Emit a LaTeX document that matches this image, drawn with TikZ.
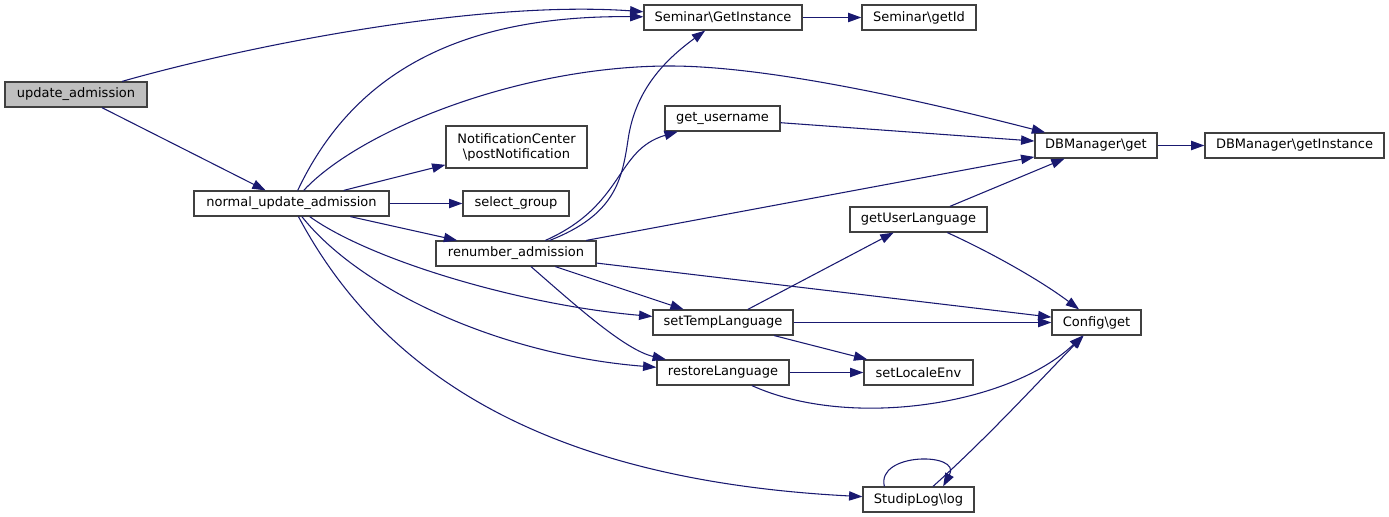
\documentclass[tikz,border=0pt]{standalone}
\usepackage{fontspec}
\setmainfont{DejaVu Sans}
\usetikzlibrary{arrows.meta}
\definecolor{edgecol}{HTML}{191970}
\definecolor{boxline}{HTML}{404040}
\tikzset{
  box/.style={draw=boxline, line width=0.9pt, fill=white, inner sep=0pt,
    minimum height=25*0.75pt, font=\fontsize{9.75pt}{11.25pt}\selectfont, align=center},
  edge/.style={draw=edgecol, line width=0.8pt, -{Triangle[length=10pt,width=7pt]}},
}
\begin{document}
\begin{tikzpicture}[x=0.75pt,y=-0.75pt]
\useasboundingbox (0,0) rectangle (1389,517);
% nodes
\node[box, fill=black!25, minimum width=142*0.75pt] (ua) at (76,94.5) {update\_admission};
\node[box, minimum width=195*0.75pt] (nua) at (291.5,203.5) {normal\_update\_admission};
\node[box, minimum width=158*0.75pt] (sgi) at (723,17.5) {Seminar\textbackslash GetInstance};
\node[box, minimum width=114*0.75pt] (sid) at (919,17.5) {Seminar\textbackslash getId};
\node[box, minimum width=122*0.75pt] (dbg) at (1096,145.5) {DBManager\textbackslash get};
\node[box, minimum width=179*0.75pt] (dbi) at (1294.5,145.5) {DBManager\textbackslash getInstance};
\node[box, minimum width=141*0.75pt, minimum height=42*0.75pt] (nc) at (516.5,147) {NotificationCenter\\\textbackslash postNotification};
\node[box, minimum width=106*0.75pt] (sg) at (516,203.5) {select\_group};
\node[box, minimum width=160*0.75pt] (ra) at (516,253.5) {renumber\_admission};
\node[box, minimum width=115*0.75pt] (gu) at (722.5,118.5) {get\_username};
\node[box, minimum width=137*0.75pt] (gul) at (918.5,219.5) {getUserLanguage};
\node[box, minimum width=140*0.75pt] (stl) at (723,322.5) {setTempLanguage};
\node[box, minimum width=132*0.75pt] (rl) at (723,372.5) {restoreLanguage};
\node[box, minimum width=89*0.75pt] (cg) at (1096.5,322.5) {Config\textbackslash get};
\node[box, minimum width=109*0.75pt] (sle) at (918.5,372.5) {setLocaleEnv};
\node[box, minimum width=111*0.75pt] (sl) at (918.5,499.5) {StudipLog\textbackslash log};
% edges
\draw[edge] (ua) .. controls (250,45) and (480,0) .. (sgi);
\draw[edge] (ua) -- (nua);
\draw[edge] (nua) .. controls (350,80) and (450,15) .. (sgi);
\draw[edge] (nua) .. controls (360,130) and (520,66) .. (670,66) .. controls (760,66) and (900,95) .. (dbg);
\draw[edge] (nua) -- (nc);
\draw[edge] (nua) -- (sg);
\draw[edge] (nua) -- (ra);
\draw[edge] (nua) .. controls (370,260) and (520,305) .. (stl);
\draw[edge] (nua) .. controls (360,290) and (500,355) .. (rl);
\draw[edge] (nua) .. controls (380,370) and (540,480) .. (sl);
\draw[edge] (ra) .. controls (615,215) and (622,180) .. (628,140) .. controls (635,90) and (665,60) .. (sgi);
\draw[edge] (ra) .. controls (625,205) and (615,150) .. (gu);
\draw[edge] (ra) -- (dbg);
\draw[edge] (ra) -- (cg);
\draw[edge] (ra) -- (stl);
\draw[edge] (ra) .. controls (575,305) and (625,350) .. (rl);
\draw[edge] (sgi) -- (sid);
\draw[edge] (gu) -- (dbg);
\draw[edge] (dbg) -- (dbi);
\draw[edge] (gul) -- (dbg);
\draw[edge] (gul) .. controls (990,252) and (1040,280) .. (cg);
\draw[edge] (stl) -- (gul);
\draw[edge] (stl) -- (cg);
\draw[edge] (stl) -- (sle);
\draw[edge] (rl) -- (sle);
\draw[edge] (rl) .. controls (850,430) and (1010,405) .. (cg);
\draw[edge] (sl) .. controls (990,435) and (1040,380) .. (cg);
\draw[edge] (sl.159) .. controls (876,452) and (962,452) .. (sl.28);
\end{tikzpicture}
\end{document}
